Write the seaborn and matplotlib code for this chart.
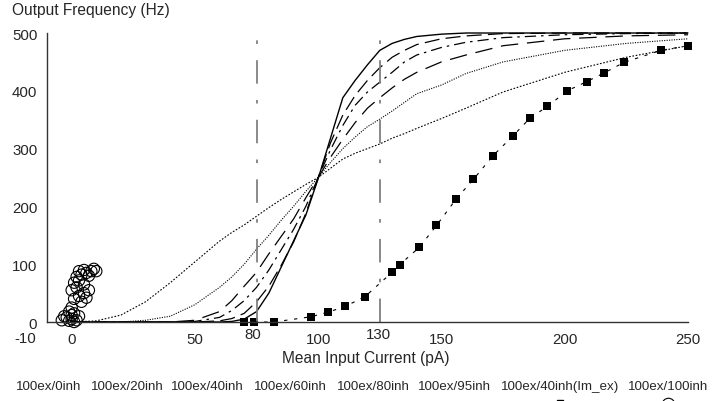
import numpy as np
import pandas as pd
import matplotlib
matplotlib.use("Agg")
import matplotlib.pyplot as plt
from matplotlib.lines import Line2D
import seaborn as sns

# input current grid (pA) shared by the six transfer curves
current = [0, 10, 20, 30, 40, 50, 60, 65, 70, 75, 80, 85, 90, 95, 100, 105, 110,
           115, 120, 125, 130, 135, 140, 150, 160, 175, 200, 225, 250]

inh0 = [0, 0, 0, 0, 0, 0, 0, 1, 5, 18, 50, 95, 140, 185, 248, 318, 388,
        418, 445, 470, 482, 489, 494, 498, 500, 500, 500, 500, 500]
inh20 = [0, 0, 0, 0, 0, 0, 2, 6, 15, 35, 62, 98, 138, 188, 250, 310, 358,
         392, 418, 440, 458, 470, 480, 490, 495, 499, 500, 500, 500]
inh40 = [0, 0, 0, 0, 0, 1, 8, 20, 37, 60, 90, 125, 160, 200, 250, 298, 340,
         375, 398, 415, 432, 450, 462, 475, 484, 492, 497, 499, 500]
inh60 = [0, 0, 0, 0, 0, 3, 18, 37, 62, 86, 118, 148, 178, 215, 250, 285, 316,
         345, 370, 388, 405, 420, 432, 450, 462, 478, 490, 495, 497]
inh80 = [0, 0, 0, 3, 10, 30, 60, 78, 100, 126, 150, 176, 200, 226, 250, 276, 300,
         320, 338, 351, 365, 380, 395, 410, 430, 450, 470, 482, 490]
inh95 = [0, 2, 12, 35, 68, 104, 140, 155, 168, 183, 198, 212, 225, 238, 250, 266, 282,
         292, 300, 308, 318, 326, 335, 352, 370, 398, 432, 458, 478]

# 100ex/40inh (Im_ex) points
imex_x = [70, 74, 82, 97, 104, 111, 119, 130, 133, 141, 148, 156, 163, 171,
          179, 186, 193, 201, 209, 216, 224, 239, 250]
imex_y = [0, 0, 0, 9, 17, 27, 44, 86, 99, 129, 167, 213, 247, 288,
          322, 353, 373, 400, 416, 431, 449, 470, 478]

# 100ex/100inh points
inh100_x = [-1, 0, 1, -2, 0, 2, -1, 1, 3, 0, 1, 3, 0, 2, 5, 6, 4, 7, 1, 3,
            5, 2, 4, 6, 8, 3, 7, 9, 5, 10, -3, -4]
inh100_y = [2, 5, 0, 8, 12, 3, 18, 15, 10, 25, 40, 45, 55, 60, 50, 42, 35, 55, 68, 72,
            65, 78, 82, 85, 88, 88, 80, 92, 90, 88, 10, 3]

legend_names = ["100ex/0inh", "100ex/20inh", "100ex/40inh", "100ex/60inh",
                "100ex/80inh", "100ex/95inh", "100ex/40inh(Im_ex)", "100ex/100inh"]

marker_lines = [75, 125]

sns.set_style("white")
plt.rcParams['font.family'] = ['Liberation Sans', 'DejaVu Sans']

fig = plt.figure(figsize=(7.24, 4.02), dpi=100)
ax = fig.add_axes([0.0649, 0.1965, 0.8853, 0.7189])

styles = [
    (inh0, '-', 1.0),
    (inh20, (0, (12, 5)), 0.9),
    (inh40, (0, (9, 4, 2, 4)), 0.9),
    (inh60, (0, (14, 7)), 0.9),
    (inh80, (0, (1, 1.2)), 0.8),
    (inh95, (0, (1.5, 1.5)), 0.8),
]
for ys, ls, lw in styles:
    sns.lineplot(x=current, y=ys, ax=ax, color='black', linestyle=ls,
                 linewidth=lw, clip_on=False)

# vertical dash-dot reference lines
for xv in marker_lines:
    ax.plot([xv, xv], [0, 497], color='#808080', linewidth=1.3,
            linestyle=(0, (13, 9, 2, 9)))

sns.lineplot(x=imex_x, y=imex_y, ax=ax, color='black', linestyle=(0, (3, 6)),
             linewidth=0.8)
sns.scatterplot(x=imex_x, y=imex_y, ax=ax, marker='s', color='black', s=28,
                edgecolor='black', linewidth=0, clip_on=False)
sns.scatterplot(x=inh100_x, y=inh100_y, ax=ax, marker='o', s=66,
                facecolor='none', edgecolor='black', linewidth=0.8, clip_on=False)

ax.set_xlim(-10, 250)
ax.set_ylim(0, 500)
for side in ['top', 'right']:
    ax.spines[side].set_visible(False)
for side in ['left', 'bottom']:
    ax.spines[side].set_color('#333333')
    ax.spines[side].set_linewidth(1.0)

ax.set_xticks([0, 50, 100, 150, 200, 250])
ax.set_xticks([25, 75, 125, 175, 225], minor=True)
ax.set_yticks([0, 100, 200, 300, 400, 500])
ax.set_yticks([50, 150, 250, 350, 450], minor=True)
ax.tick_params(which='both', direction='in', color='#333333', labelsize=10.8)
ax.tick_params(which='major', length=4.5, width=1)
ax.tick_params(which='minor', length=3, width=1)
ax.tick_params(axis='x', pad=7.5)
ax.tick_params(axis='y', pad=7)
ax.set_xlabel("")
ax.set_ylabel("")

# extra axis annotations
ax.text(-19, -27, "-10", ha='center', va='center', fontsize=10.8, clip_on=False)
ax.text(73.5, -20, "80", ha='center', va='center', fontsize=10.8, clip_on=False)
ax.text(124.5, -20, "130", ha='center', va='center', fontsize=10.8, clip_on=False)

fig.text(12 / 724, 1 - 10 / 402, "Output Frequency (Hz)", ha='left', va='center',
         fontsize=11.2)
fig.text(366 / 724, 1 - 358 / 402, "Mean Input Current (pA)", ha='center',
         va='center', fontsize=11.2)

label_x = [49, 127, 207, 290, 373, 454, 560, 668]
for name, px in zip(legend_names, label_x):
    fig.text(px / 724, 1 - 387 / 402, name, ha='center', va='center', fontsize=9.6)

fig.add_artist(Line2D([560 / 724], [1 - 404 / 402], marker='s', color='black',
                      markersize=5, linestyle='none', transform=fig.transFigure))
fig.add_artist(Line2D([668 / 724], [1 - 405 / 402], marker='o', color='black',
                      markerfacecolor='none', markersize=9, markeredgewidth=0.8,
                      linestyle='none', transform=fig.transFigure))

fig.savefig("out.png", dpi=100)
